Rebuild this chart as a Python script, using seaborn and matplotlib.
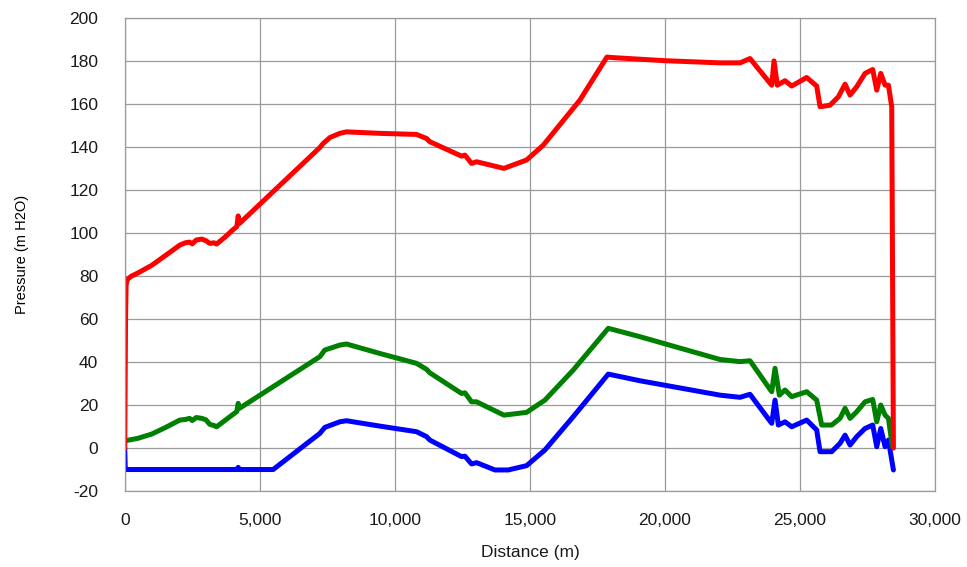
import matplotlib
matplotlib.use("Agg")
import matplotlib.pyplot as plt
from matplotlib.ticker import FuncFormatter
import pandas as pd
import seaborn as sns

# Pressure profiles along the pipeline (distance in m, pressure in m H2O)
upper_dist = [0, 30, 50, 100, 250, 481, 1000, 1500, 2037, 2250, 2400, 2500, 2650,
              2850, 3000, 3150, 3300, 3400, 3700, 4000, 4150, 4200, 4250,
              7222, 7346, 7600, 7963, 8210, 9444, 10802, 11173,
              11296, 12469, 12593, 12840, 13025, 14037, 14877, 15494, 16852, 17852,
              18000, 20000, 22037, 22778, 23148, 23951, 24037, 24160, 24444, 24691,
              25247, 25617, 25741, 26111, 26420, 26667, 26852, 27099, 27407, 27691,
              27840, 27988, 28148, 28272, 28395, 28457]
upper_head = [0, 60, 76, 78.5, 80, 81.4, 85, 89.5, 94.4, 95.5, 95.8, 95.0, 96.8,
              97.2, 96.5, 95.2, 95.5, 94.9, 98.0, 101.5, 103.0, 108.0, 104.5,
              139.8, 141.7, 144.5, 146.4, 147.1, 146.4, 145.9, 144.0,
              142.5, 135.8, 136.3, 132.4, 133.2, 130.1, 134.0, 140.9, 161.9, 181.9,
              181.7, 180.2, 179.2, 179.2, 181.2, 168.8, 180.1, 168.8, 170.9, 168.4,
              172.4, 168.4, 158.8, 159.5, 163.4, 169.3, 164.2, 168.1, 174.3, 176.1,
              166.5, 174.3, 168.8, 168.8, 158.8, 0]

middle_dist = [0, 60, 481, 1000, 1500, 2037, 2250, 2400, 2500, 2650, 2850, 3000,
               3150, 3300, 3400, 4150, 4200, 4250,
               7222, 7407, 7963, 8210, 9444, 10802, 11173, 11296, 12469, 12593,
               12840, 13025, 14037, 14877, 15556, 16605, 17901, 19074, 22037, 22778,
               23148, 23951, 24074, 24235, 24444, 24691, 25247, 25617, 25802, 26173,
               26481, 26667, 26852, 27099, 27407, 27691, 27840, 27988, 28148, 28272,
               28420]
middle_head = [3.0, 3.5, 4.5, 6.5, 9.5, 13.0, 13.3, 13.8, 12.8, 14.2, 13.8, 13.2,
               11.0, 10.5, 9.9, 17.0, 20.8, 18.5,
               42.5, 45.6, 47.9, 48.4, 44.0, 39.4, 36.6, 35.0, 25.4, 25.7,
               21.5, 21.5, 15.3, 16.6, 22.3, 36.3, 55.7, 51.8, 41.2, 40.2,
               40.6, 26.2, 37.1, 24.6, 27.0, 23.9, 26.2, 22.3, 10.7, 10.7,
               13.8, 18.5, 13.8, 16.9, 21.5, 22.6, 12.2, 20.0, 15.3, 13.8,
               0.6]

lower_dist = [0, 20, 4150, 4200, 4250, 5494, 7222, 7407, 7963, 8210, 9444, 10802,
              11173, 11296, 12469, 12593, 12840, 13025, 13704, 14198, 14877, 15556,
              16605, 17901, 19074, 22037, 22778, 23148, 23951, 24074, 24198, 24444,
              24691, 25247, 25617, 25741, 26173, 26481, 26667, 26852, 27099, 27407,
              27691, 27840, 27988, 28148, 28272, 28457]
lower_head = [0, -10, -10, -9, -10, -10, 6.8, 9.6, 12.2, 12.7, 10.2, 7.6,
              5.3, 3.7, -4.0, -3.8, -7.4, -6.8, -10.2, -10.2, -8.2, -0.9,
              14.6, 34.4, 31.3, 24.6, 23.6, 25.0, 11.5, 22.3, 10.7, 12.2,
              9.9, 13.0, 8.4, -1.7, -1.7, 2.2, 6.0, 1.4, 5.3, 9.1,
              10.7, 0.6, 9.1, 0.6, 3.7, -10.2]

x_ticks = [0, 5000, 10000, 15000, 20000, 25000, 30000]
y_ticks = [-20, 0, 20, 40, 60, 80, 100, 120, 140, 160, 180, 200]

series = [("lower", lower_dist, lower_head),
          ("middle", middle_dist, middle_head),
          ("upper", upper_dist, upper_head)]
frames = []
for name, d, h in series:
    part = pd.DataFrame({"Distance": d, "Pressure": h})
    part["Profile"] = name
    frames.append(part)
df = pd.concat(frames, ignore_index=True)

sns.set_theme(style="white")
plt.rcParams["font.family"] = ["Liberation Sans", "DejaVu Sans"]
plt.rcParams["axes.unicode_minus"] = False

fig = plt.figure(figsize=(9.67, 5.67), dpi=100)
ax = fig.add_axes([0.129, 0.134, 0.838, 0.834])

sns.lineplot(data=df, x="Distance", y="Pressure", hue="Profile",
             hue_order=["lower", "middle", "upper"],
             palette={"lower": "#0000ff", "middle": "#008000", "upper": "#ff0000"},
             units="Profile", estimator=None, sort=False, legend=False,
             linewidth=3.6, ax=ax)
for line in ax.get_lines():
    line.set_solid_joinstyle("round")
    line.set_solid_capstyle("round")

ax.set_xlim(0, 30000)
ax.set_ylim(-20, 200)
ax.set_xticks(x_ticks)
ax.set_yticks(y_ticks)
ax.xaxis.set_major_formatter(FuncFormatter(lambda v, p: f"{int(v):,}"))
ax.grid(True, color="#9a9a9a", linewidth=0.9)
ax.set_axisbelow(True)
for s in ax.spines.values():
    s.set_color("#9a9a9a")
    s.set_linewidth(0.9)
ax.tick_params(axis="both", length=0, labelsize=12.5, colors="#1a1a1a")
ax.tick_params(axis="y", pad=19)
ax.tick_params(axis="x", pad=16)
ax.set_xlabel("Distance (m)", fontsize=12.5, color="#1a1a1a", labelpad=12)
ax.set_ylabel("Pressure (m H2O)", fontsize=10.5, color="black", labelpad=0)
ax.yaxis.set_label_coords(-0.118, 0.5)

fig.savefig("out.png", dpi=100, facecolor="white")
